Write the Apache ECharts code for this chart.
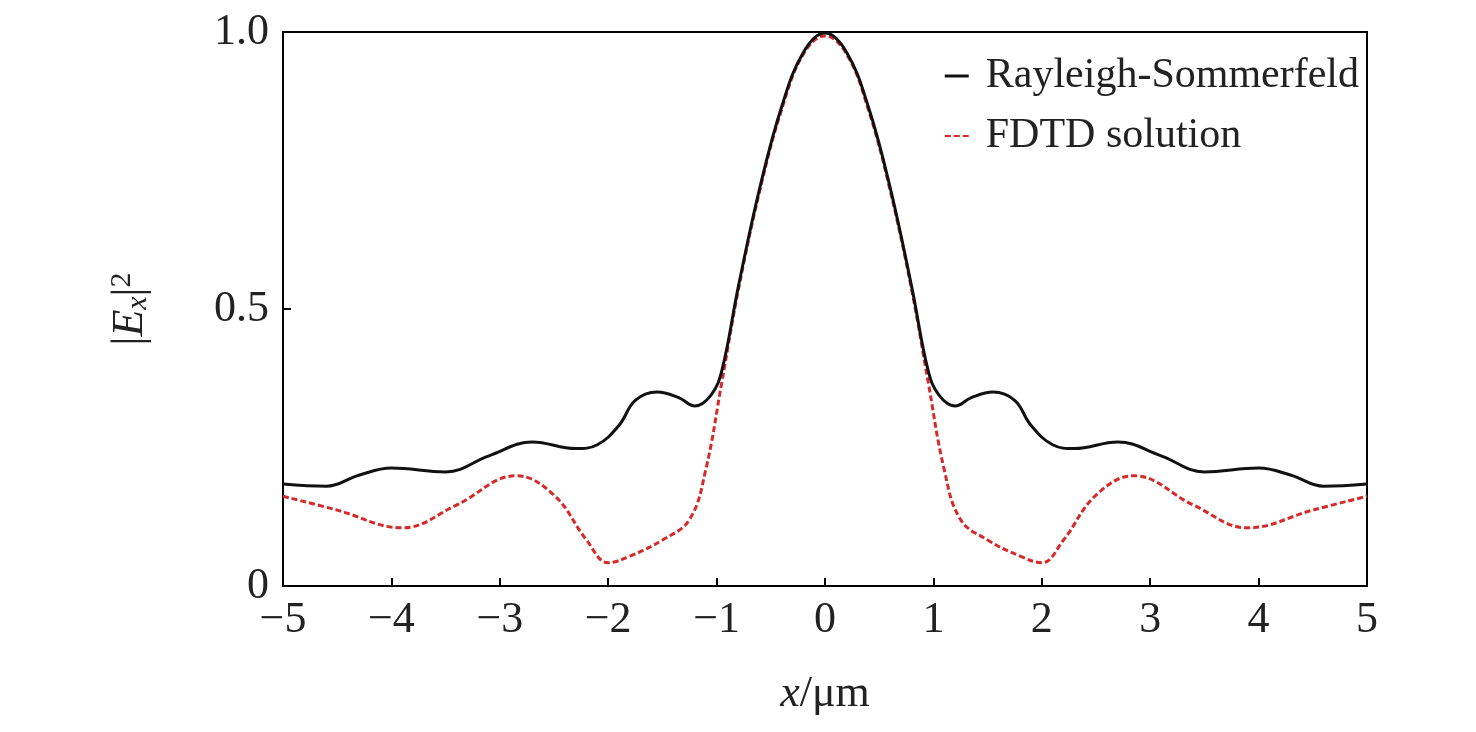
<!DOCTYPE html>
<html><head><meta charset="utf-8">
<script src="https://cdn.jsdelivr.net/npm/echarts@6/dist/echarts.min.js"></script>
<style>html,body{margin:0;background:#fff}#c{width:1476px;height:732px}</style>
</head><body><div id="c"></div>
<script>
// x positions (um)
var xs = [-5,-4.6,-4.3,-4,-3.5,-3.1,-2.7,-2.3,-2.1,-1.9,-1.75,-1.55,-1.35,-1.2,-1.05,-0.95,-0.8,-0.6,-0.4,-0.2,0,
          0.2,0.4,0.6,0.8,0.95,1.05,1.2,1.35,1.55,1.75,1.9,2.1,2.3,2.7,3.1,3.5,4,4.3,4.6,5];
var rs = [0.184,0.18,0.2,0.213,0.206,0.235,0.26,0.248,0.255,0.29,0.335,0.35,0.34,0.325,0.345,0.39,0.54,0.72,0.865,0.963,0.998,
          0.963,0.865,0.72,0.54,0.39,0.345,0.325,0.34,0.35,0.335,0.29,0.255,0.248,0.26,0.235,0.206,0.213,0.2,0.18,0.184];
var fx = [-5,-4.5,-3.9,-3.4,-2.85,-2.5,-2.2,-2,-1.8,-1.5,-1.25,-1.1,-0.95,-0.8,-0.6,-0.4,-0.2,0,
          0.2,0.4,0.6,0.8,0.95,1.1,1.25,1.5,1.8,2,2.2,2.5,2.85,3.4,3.9,4.5,5];
var fd = [0.162,0.137,0.105,0.146,0.199,0.164,0.083,0.042,0.054,0.083,0.12,0.21,0.37,0.534,0.715,0.86,0.96,0.993,
          0.96,0.86,0.715,0.534,0.37,0.21,0.12,0.083,0.054,0.042,0.083,0.164,0.199,0.146,0.105,0.137,0.162];
var xTicks = [-5,-4,-3,-2,-1,0,1,2,3,4,5];
var yTicks = {0:'0',0.5:'0.5',1:'1.0'};

function pairs(a,b){return a.map(function(v,i){return [v,b[i]];});}
var font = 'Liberation Serif';
var chart = echarts.init(document.getElementById('c'));
chart.setOption({
  animation:false,
  textStyle:{fontFamily:font},
  grid:{left:283,right:109,top:32,bottom:146,show:true,borderColor:'#000',borderWidth:2,backgroundColor:'transparent'},
  legend:{
    right:112,top:50,orient:'vertical',itemGap:18,itemWidth:24,itemHeight:3,
    textStyle:{fontFamily:font,fontSize:42,color:'#222',padding:[0,0,0,12]},
    data:[{name:'Rayleigh-Sommerfeld',icon:'rect'},{name:'FDTD solution',icon:'path://M0,0H6V2H0Z M9,0H15V2H9Z M18,0H24V2H18Z'}]
  },
  xAxis:{type:'value',min:-5,max:5,interval:1,
    axisLine:{onZero:false,lineStyle:{color:'#000',width:2}},
    axisTick:{inside:true,length:8,lineStyle:{color:'#000',width:2}},
    splitLine:{show:false},
    axisLabel:{fontFamily:font,fontSize:44,color:'#222',margin:12,
      formatter:function(v){return xTicks.indexOf(v)>=0?(v<0?'\u2212'+(-v):''+v):'';}},
    name:'{i|x}/μm',nameLocation:'middle',nameGap:86,
    nameTextStyle:{fontFamily:font,fontSize:44,color:'#222',rich:{i:{fontStyle:'italic',fontFamily:font,fontSize:44,color:'#222'}}}
  },
  yAxis:{type:'value',min:0,max:1,interval:0.5,
    axisLine:{onZero:false,lineStyle:{color:'#000',width:2}},
    axisTick:{inside:true,length:8,lineStyle:{color:'#000',width:2}},
    splitLine:{show:false},
    axisLabel:{fontFamily:font,fontSize:44,color:'#222',margin:14,formatter:function(v){return yTicks[v]||'';}},
    name:'|{i|E}{s|x}|{p|2}',nameLocation:'middle',nameGap:130,nameRotate:90,
    nameTextStyle:{fontFamily:font,fontSize:44,color:'#222',
      rich:{i:{fontStyle:'italic',fontFamily:font,fontSize:44,color:'#222'},
            s:{fontStyle:'italic',fontFamily:font,fontSize:30,color:'#222',verticalAlign:'bottom',padding:[16,0,0,0]},
            p:{fontFamily:font,fontSize:30,color:'#222',verticalAlign:'top',padding:[0,0,16,0]}}}
  },
  series:[
    {name:'Rayleigh-Sommerfeld',type:'line',smooth:0.4,showSymbol:false,data:pairs(xs,rs),
     itemStyle:{color:'#111'},lineStyle:{color:'#111',width:3},z:3},
    {name:'FDTD solution',type:'line',smooth:0.4,showSymbol:false,data:pairs(fx,fd),
     itemStyle:{color:'#d42a2a'},lineStyle:{color:'#d42a2a',width:3,type:[6,3]},z:2}
  ]
});
</script></body></html>
